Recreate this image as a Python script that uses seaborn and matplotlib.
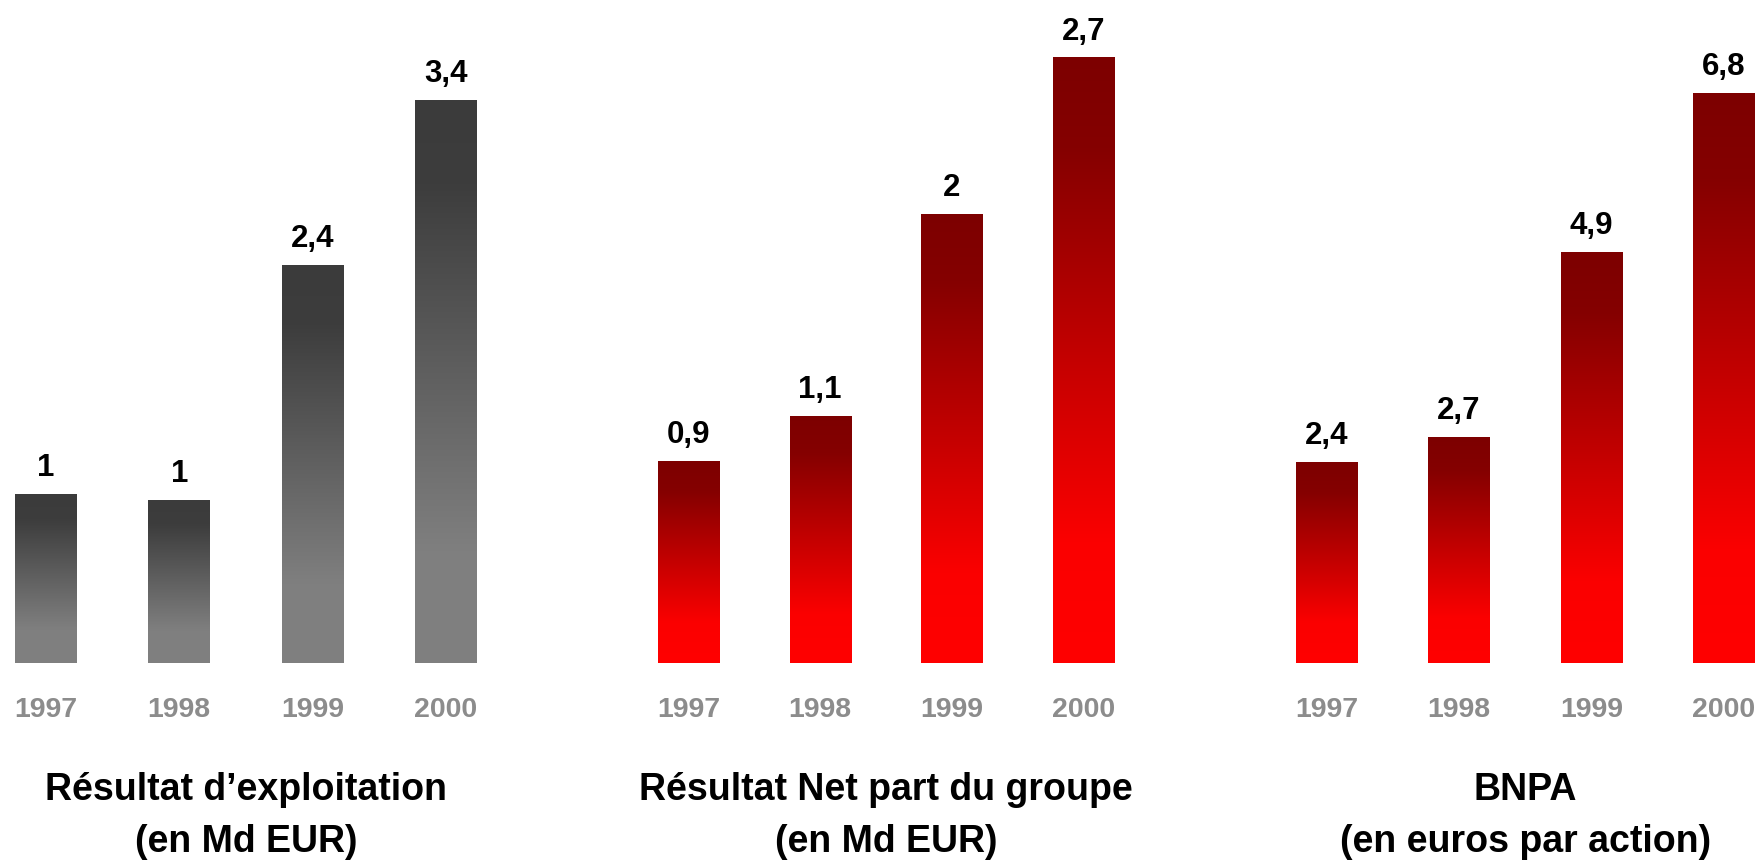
import numpy as np
import matplotlib
matplotlib.use("Agg")
import matplotlib.pyplot as plt
from matplotlib.colors import LinearSegmentedColormap
import seaborn as sns

sns.set_theme(style="white")
plt.rcParams['font.family'] = ['Liberation Sans', 'DejaVu Sans']

# data
years = ["1997", "1998", "1999", "2000"]
exploitation = [1.02, 0.98, 2.4, 3.4]
exploitation_labels = ["1", "1", "2,4", "3,4"]
resultat_net = [0.9, 1.1, 2.0, 2.7]
resultat_net_labels = ["0,9", "1,1", "2", "2,7"]
bnpa = [2.4, 2.7, 4.9, 6.8]
bnpa_labels = ["2,4", "2,7", "4,9", "6,8"]
titles = [("Résultat d\u2019exploitation", "(en Md EUR)"),
          ("Résultat Net part du groupe", "(en Md EUR)"),
          ("BNPA", "(en euros par action)")]

W, H = 1757, 863
GRAY = LinearSegmentedColormap.from_list(
    "gray_grad", [(0, "#3b3b3b"), (0.15, "#3d3d3d"), (0.8, "#7f7f7f"), (1, "#808080")])
RED = LinearSegmentedColormap.from_list(
    "red_grad", [(0, "#7d0000"), (0.15, "#850000"), (0.8, "#fb0000"), (1, "#ff0000")])

# layout in pixels: first bar centre, bar spacing, y-axis top value
panels = [
    (exploitation, exploitation_labels, GRAY, 45.9, 133.3, 4.008),
    (resultat_net, resultat_net_labels, RED, 688.5, 131.7, 2.96),
    (bnpa, bnpa_labels, RED, 1326.7, 132.4, 7.925),
]
BASE = 663.3
BAR_W = 0.465

fig = plt.figure(figsize=(W / 100, H / 100), dpi=100)
grad = np.linspace(0, 1, 256).reshape(-1, 1)

for (vals, labels, cmap, c0, step, ytop), (t1, t2) in zip(panels, titles):
    left = c0 - 0.5 * step
    ax = fig.add_axes([left / W, (H - BASE) / H, 4 * step / W, BASE / H])
    ax.patch.set_alpha(0)
    sns.barplot(x=years, y=vals, ax=ax, width=BAR_W, color="#808080")
    for p in list(ax.patches):
        x0, h, w = p.get_x(), p.get_height(), p.get_width()
        ax.imshow(grad, cmap=cmap, aspect="auto", origin="upper",
                  extent=[x0, x0 + w, 0, h], interpolation="bicubic", zorder=2)
        p.set_visible(False)
    for i, (v, lab) in enumerate(zip(vals, labels)):
        ax.annotate(lab, (i, v), xytext=(0, 13.5), textcoords="offset points",
                    ha="center", va="baseline", fontsize=22.5, fontweight="bold",
                    color="black", annotation_clip=False)
    ax.set_xlim(-0.5, 3.5)
    ax.set_ylim(0, ytop)
    ax.set_xticks(range(len(years)))
    ax.set_xticklabels(years, fontsize=20.5, fontweight="bold", color="#8c8c8c")
    ax.tick_params(axis="x", length=0, pad=24)
    ax.set_yticks([])
    ax.set_xlabel("")
    ax.set_ylabel("")
    sns.despine(ax=ax, left=True, bottom=True)

    cx = (c0 + 1.5 * step) / W
    fig.text(cx, 1 - 790 / H, t1, ha="center", va="center", fontsize=27,
             fontweight="bold", color="black")
    fig.text(cx, 1 - 842 / H, t2, ha="center", va="center", fontsize=27,
             fontweight="bold", color="black")

fig.savefig("out.png", dpi=100, facecolor="white")
